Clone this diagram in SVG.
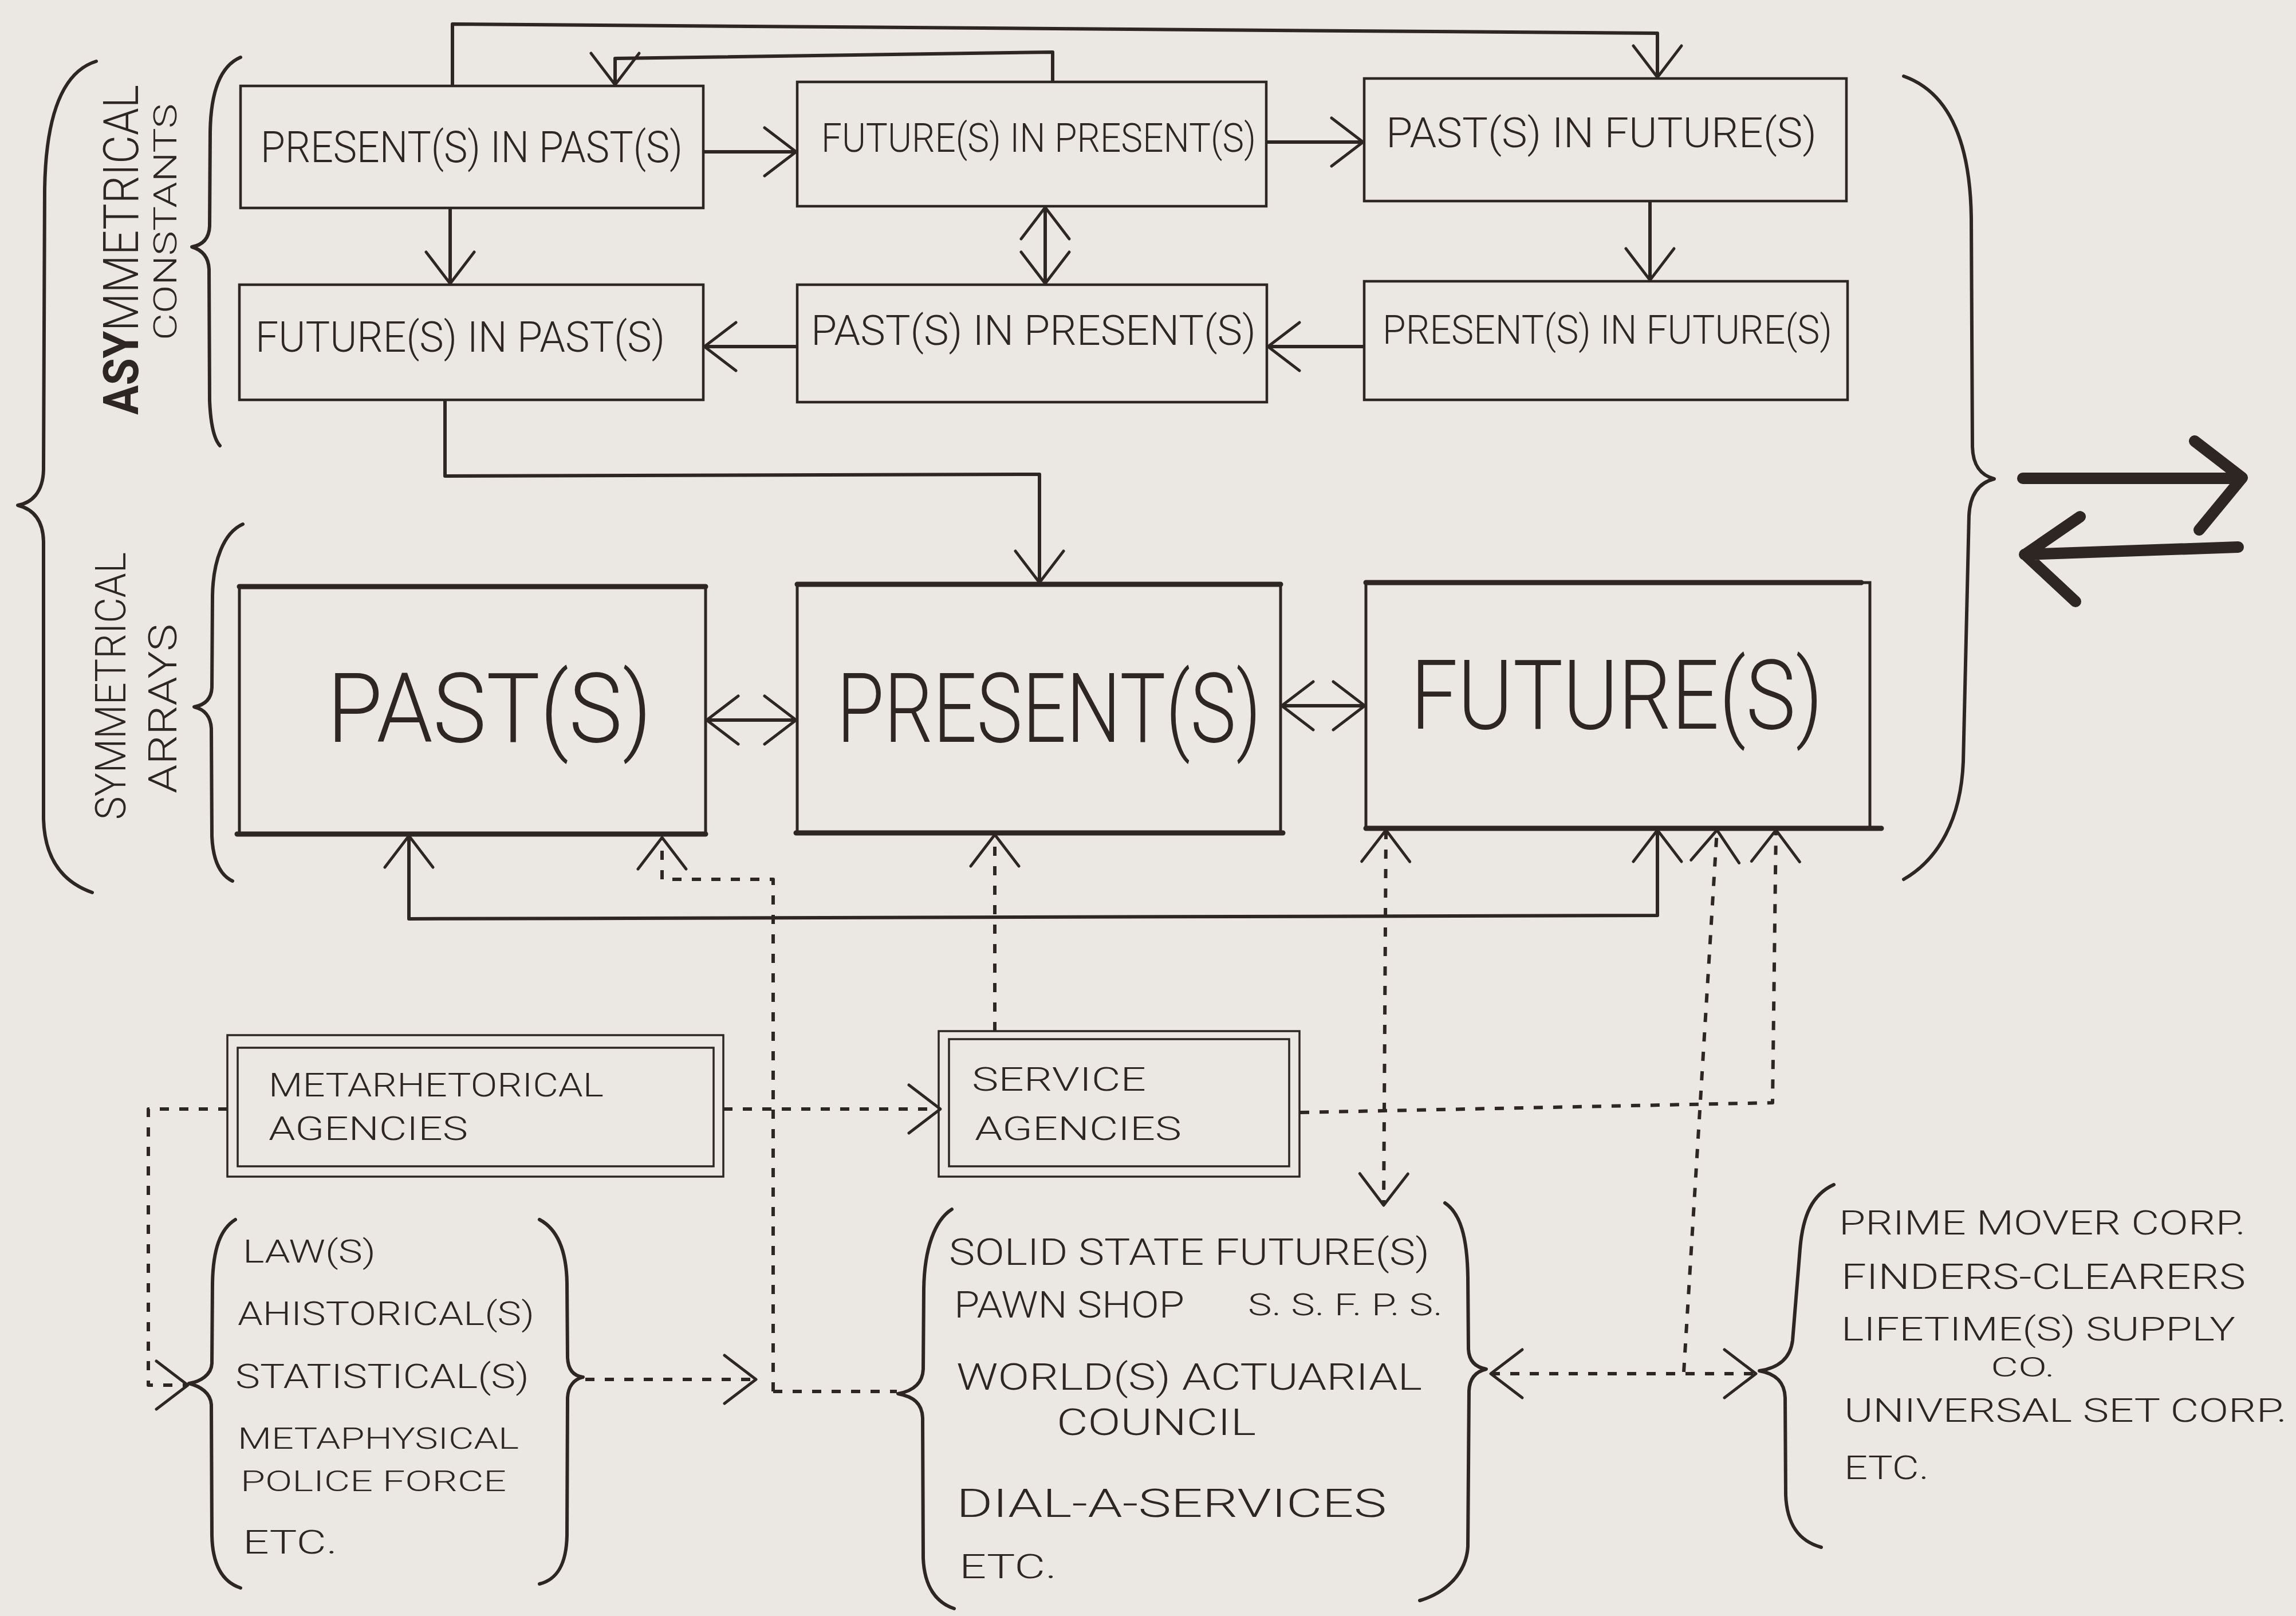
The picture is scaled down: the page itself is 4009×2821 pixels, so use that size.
<svg xmlns="http://www.w3.org/2000/svg" width="4009" height="2821" viewBox="0 0 4009 2821">
<style>
.bg{fill:#ebe7e2}
.box{fill:none;stroke:#2d2622;stroke-width:4.5}
.big{fill:none;stroke:#2d2622;stroke-width:5}
.bigh{fill:none;stroke:#2d2622;stroke-width:9;stroke-linecap:round}
.dbl{fill:none;stroke:#2d2622;stroke-width:3.5}
.brace{fill:none;stroke:#2d2622;stroke-width:6;stroke-linecap:round;stroke-linejoin:round}
.solid{fill:none;stroke:#2d2622;stroke-width:6;stroke-linejoin:round}
.dot{fill:none;stroke:#2d2622;stroke-width:6;stroke-dasharray:16 18;stroke-linejoin:round}
.thick{fill:none;stroke:#2d2622;stroke-width:20;stroke-linecap:round;stroke-linejoin:round}
text{font-family:Roboto,"Liberation Sans",Arial,sans-serif;font-weight:300;fill:#2d2622}
.s{font-size:58px}
.h{font-size:168px;font-weight:300}
</style>
<defs>
<marker id="ah" viewBox="-80 -60 100 120" refX="0" refY="0" markerWidth="100" markerHeight="120" markerUnits="userSpaceOnUse" orient="auto-start-reverse" overflow="visible">
<path d="M-55,-42 L0,0 L-55,42" fill="none" stroke="#2d2622" stroke-width="5" stroke-dasharray="none" stroke-linecap="round" stroke-linejoin="round"/>
</marker>
</defs>
<rect class="bg" x="0" y="0" width="4009" height="2821"/>

<g id="braces">
<path class="brace" d="M168,107 C110,125 80,200 78,330 L76,820 C75,860 55,878 31,882 C55,888 75,905 76,945 L76,1430 C78,1500 110,1540 161,1558"/>
<path class="brace" d="M420,100 C385,115 368,160 367,230 L366,395 C365,418 352,428 335,431 C352,436 364,448 365,470 L366,700 C368,745 375,768 384,778"/>
<path class="brace" d="M424,915 C390,930 372,980 371,1040 L370,1200 C369,1222 356,1231 339,1234 C356,1238 368,1250 369,1272 L370,1460 C372,1505 385,1528 406,1538"/>
<path class="brace" d="M3324,133 C3400,160 3440,240 3442,380 L3444,780 C3445,815 3460,830 3482,836 C3458,842 3440,860 3438,900 L3428,1330 C3424,1430 3385,1500 3324,1535"/>
</g>

<g id="labels-left">
<text transform="translate(241,724) rotate(-90)" font-size="86" textLength="576" lengthAdjust="spacingAndGlyphs"><tspan font-weight="bold">ASY</tspan>MMETRICAL</text>
<text transform="translate(308,594) rotate(-90)" font-size="56" textLength="413" lengthAdjust="spacingAndGlyphs">CONSTANTS</text>
<text transform="translate(219,1431) rotate(-90)" font-size="75" textLength="467" lengthAdjust="spacingAndGlyphs">SYMMETRICAL</text>
<text transform="translate(308,1385) rotate(-90)" font-size="68" textLength="296" lengthAdjust="spacingAndGlyphs">ARRAYS</text>
</g>

<g id="node-present-in-past">
<rect class="box" x="420" y="150" width="808" height="213"/>
<text x="455" y="283" font-size="76" textLength="737" lengthAdjust="spacingAndGlyphs">PRESENT(S) IN PAST(S)</text>
</g>
<g id="node-future-in-present">
<rect class="box" x="1392" y="143" width="819" height="217"/>
<text x="1434" y="265" font-size="70" textLength="759" lengthAdjust="spacingAndGlyphs">FUTURE(S) IN PRESENT(S)</text>
</g>
<g id="node-past-in-future">
<rect class="box" x="2382" y="137" width="842" height="214"/>
<text x="2420" y="257" font-size="72" textLength="752" lengthAdjust="spacingAndGlyphs">PAST(S)  IN  FUTURE(S)</text>
</g>
<g id="node-future-in-past">
<rect class="box" x="418" y="497" width="810" height="201"/>
<text x="446" y="614" font-size="74" textLength="715" lengthAdjust="spacingAndGlyphs">FUTURE(S) IN PAST(S)</text>
</g>
<g id="node-past-in-present">
<rect class="box" x="1392" y="497" width="820" height="205"/>
<text x="1416" y="602" font-size="72" textLength="777" lengthAdjust="spacingAndGlyphs">PAST(S)  IN  PRESENT(S)</text>
</g>
<g id="node-present-in-future">
<rect class="box" x="2382" y="491" width="844" height="207"/>
<text x="2414" y="600" font-size="70" textLength="785" lengthAdjust="spacingAndGlyphs">PRESENT(S) IN FUTURE(S)</text>
</g>

<g id="node-past">
<rect class="big" x="418" y="1024" width="814" height="432"/>
<path class="bigh" d="M418,1024 H1232 M414,1456 H1232"/>
<text x="571" y="1295" class="h" textLength="567" lengthAdjust="spacingAndGlyphs">PAST(S)</text>
</g>
<g id="node-present">
<rect class="big" x="1392" y="1020" width="844" height="434"/>
<path class="bigh" d="M1392,1020 H2236 M1390,1454 H2240"/>
<text x="1461" y="1295" class="h" textLength="741" lengthAdjust="spacingAndGlyphs">PRESENT(S)</text>
</g>
<g id="node-future">
<rect class="big" x="2385" y="1017" width="880" height="429"/>
<path class="bigh" d="M2385,1017 H3250 M2385,1446 H3285"/>
<text x="2463" y="1272" class="h" font-size="163" textLength="720" lengthAdjust="spacingAndGlyphs">FUTURE(S)</text>
</g>

<g id="node-metarhetorical">
<rect class="dbl" x="397" y="1807" width="866" height="247"/>
<rect class="dbl" x="415" y="1829" width="831" height="207"/>
<text x="469" y="1914" class="s" textLength="585" lengthAdjust="spacingAndGlyphs">METARHETORICAL</text>
<text x="469" y="1990" class="s" textLength="348" lengthAdjust="spacingAndGlyphs">AGENCIES</text>
</g>
<g id="node-service">
<rect class="dbl" x="1639" y="1800" width="630" height="254"/>
<rect class="dbl" x="1657" y="1814" width="594" height="222"/>
<text x="1697" y="1904" class="s" textLength="304" lengthAdjust="spacingAndGlyphs">SERVICE</text>
<text x="1702" y="1990" class="s" textLength="361" lengthAdjust="spacingAndGlyphs">AGENCIES</text>
</g>

<g id="node-laws">
<path class="brace" d="M411,2129 C385,2145 372,2180 371,2240 L370,2380 C369,2400 350,2412 330,2415 C350,2420 368,2432 369,2452 L370,2680 C371,2735 390,2762 420,2772"/>
<path class="brace" d="M942,2129 C972,2145 989,2180 990,2240 L991,2370 C992,2392 1002,2402 1018,2404 C1002,2408 992,2420 991,2440 L990,2680 C989,2735 970,2758 942,2765"/>
<text x="424" y="2204" font-size="56" textLength="232" lengthAdjust="spacingAndGlyphs">LAW(S)</text>
<text x="415" y="2313" font-size="58" textLength="518" lengthAdjust="spacingAndGlyphs">AHISTORICAL(S)</text>
<text x="411" y="2423" font-size="60" textLength="513" lengthAdjust="spacingAndGlyphs">STATISTICAL(S)</text>
<text x="415" y="2529" font-size="52" textLength="491" lengthAdjust="spacingAndGlyphs">METAPHYSICAL</text>
<text x="420" y="2603" font-size="50" textLength="464" lengthAdjust="spacingAndGlyphs">POLICE  FORCE</text>
<text x="424" y="2712" font-size="58" textLength="165" lengthAdjust="spacingAndGlyphs">ETC.</text>
</g>

<g id="node-solid-state">
<path class="brace" d="M1662,2111 C1632,2130 1614,2180 1613,2250 L1612,2390 C1611,2415 1595,2428 1568,2433 C1595,2438 1610,2450 1611,2475 L1612,2720 C1614,2770 1635,2798 1666,2808"/>
<path class="brace" d="M2523,2100 C2550,2118 2562,2160 2563,2230 L2564,2355 C2565,2378 2578,2387 2595,2390 C2578,2394 2566,2405 2565,2428 L2563,2700 C2560,2750 2520,2782 2479,2794"/>
<text x="1657" y="2208" font-size="64" textLength="839" lengthAdjust="spacingAndGlyphs">SOLID STATE  FUTURE(S)</text>
<text x="1666" y="2300" font-size="64" textLength="402" lengthAdjust="spacingAndGlyphs">PAWN SHOP</text>
<text x="2179" y="2296" font-size="54" textLength="340" lengthAdjust="spacingAndGlyphs">S. S. F. P. S.</text>
<text x="1670" y="2426" font-size="64" textLength="813" lengthAdjust="spacingAndGlyphs">WORLD(S) ACTUARIAL</text>
<text x="1845" y="2505" font-size="64" textLength="348" lengthAdjust="spacingAndGlyphs">COUNCIL</text>
<text x="1670" y="2648" font-size="68" textLength="751" lengthAdjust="spacingAndGlyphs">DIAL-A-SERVICES</text>
<text x="1675" y="2755" font-size="60" textLength="170" lengthAdjust="spacingAndGlyphs">ETC.</text>
</g>

<g id="node-prime-mover">
<path class="brace" d="M3202,2068 C3165,2085 3148,2120 3143,2180 L3130,2340 C3126,2372 3105,2388 3072,2393 C3100,2398 3116,2412 3117,2440 L3118,2610 C3120,2660 3140,2690 3180,2701"/>
<text x="3211" y="2155" font-size="60" textLength="710" lengthAdjust="spacingAndGlyphs">PRIME MOVER CORP.</text>
<text x="3215" y="2250" font-size="62" textLength="706" lengthAdjust="spacingAndGlyphs">FINDERS-CLEARERS</text>
<text x="3215" y="2340" font-size="58" textLength="688" lengthAdjust="spacingAndGlyphs">LIFETIME(S)  SUPPLY</text>
<text x="3476" y="2403" font-size="48" textLength="112" lengthAdjust="spacingAndGlyphs">CO.</text>
<text x="3220" y="2482" font-size="58" textLength="773" lengthAdjust="spacingAndGlyphs">UNIVERSAL SET CORP.</text>
<text x="3220" y="2582" font-size="58" textLength="148" lengthAdjust="spacingAndGlyphs">ETC.</text>
</g>

<g id="connectors">
<path class="solid" d="M790,150 V42 L2894,58 V135" marker-end="url(#ah)"/>
<path class="solid" d="M1838,143 V91 L1074,102 V148" marker-end="url(#ah)"/>
<path class="solid" d="M1228,265 H1390" marker-end="url(#ah)"/>
<path class="solid" d="M2211,248 H2380" marker-end="url(#ah)"/>
<path class="solid" d="M786,363 V495" marker-end="url(#ah)"/>
<path class="solid" d="M2881,351 V489" marker-end="url(#ah)"/>
<path class="solid" d="M2382,605 H2214" marker-end="url(#ah)"/>
<path class="solid" d="M1392,605 H1230" marker-end="url(#ah)"/>
<path class="solid" d="M1825,362 V495" marker-start="url(#ah)" marker-end="url(#ah)"/>
<path class="solid" d="M777,698 V831 L1815,828 V1017" marker-end="url(#ah)"/>
<path class="solid" d="M1234,1257 H1390" marker-start="url(#ah)" marker-end="url(#ah)"/>
<path class="solid" d="M2238,1232 H2383" marker-start="url(#ah)" marker-end="url(#ah)"/>
<path class="solid" d="M714,1459 V1604 L2894,1598 V1449" marker-start="url(#ah)" marker-end="url(#ah)"/>
<path class="dot" d="M1350,2429 L1350,1535 H1156 V1462" marker-end="url(#ah)"/>
<path class="dot" d="M1350,2429 H1566"/>
<path class="dot" d="M1737,1800 V1457" marker-end="url(#ah)"/>
<path class="dot" d="M2420,1449 L2416,2104" marker-start="url(#ah)" marker-end="url(#ah)"/>
<path class="dot" d="M2940,2395 L2998,1449" marker-end="url(#ah)"/>
<path class="dot" d="M2270,1942 L3095,1925 L3101,1449" marker-end="url(#ah)"/>
<path class="dot" d="M2603,2398 H3066" marker-start="url(#ah)" marker-end="url(#ah)"/>
<path class="dot" d="M397,1936 H259 V2418 H328" marker-end="url(#ah)"/>
<path class="dot" d="M1263,1936 H1642" marker-end="url(#ah)"/>
<path class="dot" d="M1022,2408 H1320" marker-end="url(#ah)"/>
<path class="thick" d="M3532,835 H3912 M3832,770 L3915,834 L3840,925"/>
<path class="thick" d="M3908,955 L3535,968 M3632,902 L3536,968 L3624,1050"/>
</g>
</svg>
